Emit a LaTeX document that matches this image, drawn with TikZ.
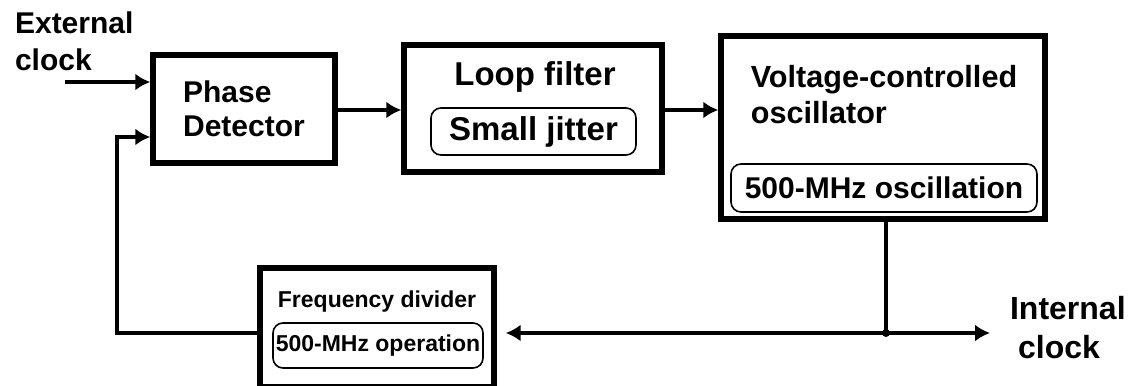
\documentclass[tikz,border=0pt]{standalone}
\usepackage{fontspec}
\setmainfont{Liberation Sans}
\usetikzlibrary{arrows.meta, positioning, calc}

\begin{document}
\begin{tikzpicture}[
    x=0.5pt, y=-0.5pt,
    blk/.style={
        rectangle,
        draw,
        line width=2.7pt,
        inner sep=0pt,
        align=left
    },
    tag/.style={
        rectangle,
        rounded corners=5pt,
        draw,
        line width=0.8pt,
        inner sep=0pt
    },
    txt/.style={font=\bfseries\fontsize{15}{17}\selectfont, align=left},
    txtbig/.style={font=\bfseries\fontsize{16.5}{19}\selectfont},
    txtsmall/.style={font=\bfseries\fontsize{11.5}{14}\selectfont},
    arrow/.style={
        -{Latex[length=7.5pt, width=8.5pt]},
        line width=1.6pt
    }
]
\useasboundingbox (0,0) rectangle (1133,385);

% Blocks
\node[blk, txt, minimum width=91pt, minimum height=54pt] (pd) at (244,109) {Phase\\Detector};
\node[blk, minimum width=129pt, minimum height=63.5pt] (lf) at (533,108.5) {};
\node[blk, minimum width=162pt, minimum height=91.5pt] (vco) at (883,127.5) {};
\node[blk, minimum width=117pt, minimum height=59.5pt] (fd) at (377,327.5) {};

% Titles inside the blocks
\node[txtbig] (lftitle) at (535,77) {Loop filter};
\node[txt, font=\bfseries\fontsize{15.3}{18}\selectfont] (vcotitle) at (884,95) {Voltage-controlled\\oscillator};
\node[txtsmall] (fdtitle) at (377,302) {Frequency divider};

% Rounded tags
\node[tag, txtbig, minimum width=102.5pt, minimum height=23.5pt] (jitter) at (533.5,131.5) {Small jitter};
\node[tag, txt, minimum width=153pt, minimum height=24pt] (osc) at (884,188) {500-MHz oscillation};
\node[tag, txtsmall, minimum width=105pt, minimum height=22.5pt] (oper) at (378,345.5) {500-MHz operation};

% Outside labels
\node[txt, font=\bfseries\fontsize{15}{18.5}\selectfont, anchor=west] (extclk) at (8,41) {External\\clock};
\node[txt, font=\bfseries\fontsize{16}{19.5}\selectfont, anchor=west] (intclk) at (1003,327.5) {Internal\\\hspace{4pt}clock};

% Arrows
\coordinate (extin) at (65,82);
\coordinate (tap) at (886,333);
\coordinate (intout) at (990,333);
\coordinate (fbturn) at (117,137);

\draw[arrow] (extin) -- (extin -| pd.west);
\draw[arrow] (pd.east |- 0,110) -- (lf.west |- 0,110);
\draw[arrow] (lf.east |- 0,110) -- (vco.west |- 0,110);
\draw[line width=1.6pt] (tap |- vco.south) -- (tap);
\draw[arrow] (tap) -- (intout);
\draw[arrow, shorten >=4.5pt] (tap) -- (tap -| fd.east);
\draw[arrow] (fd.west |- tap) -| (fbturn) -- (fbturn -| pd.west);
\fill (tap) circle[radius=2pt];
\end{tikzpicture}
\end{document}
